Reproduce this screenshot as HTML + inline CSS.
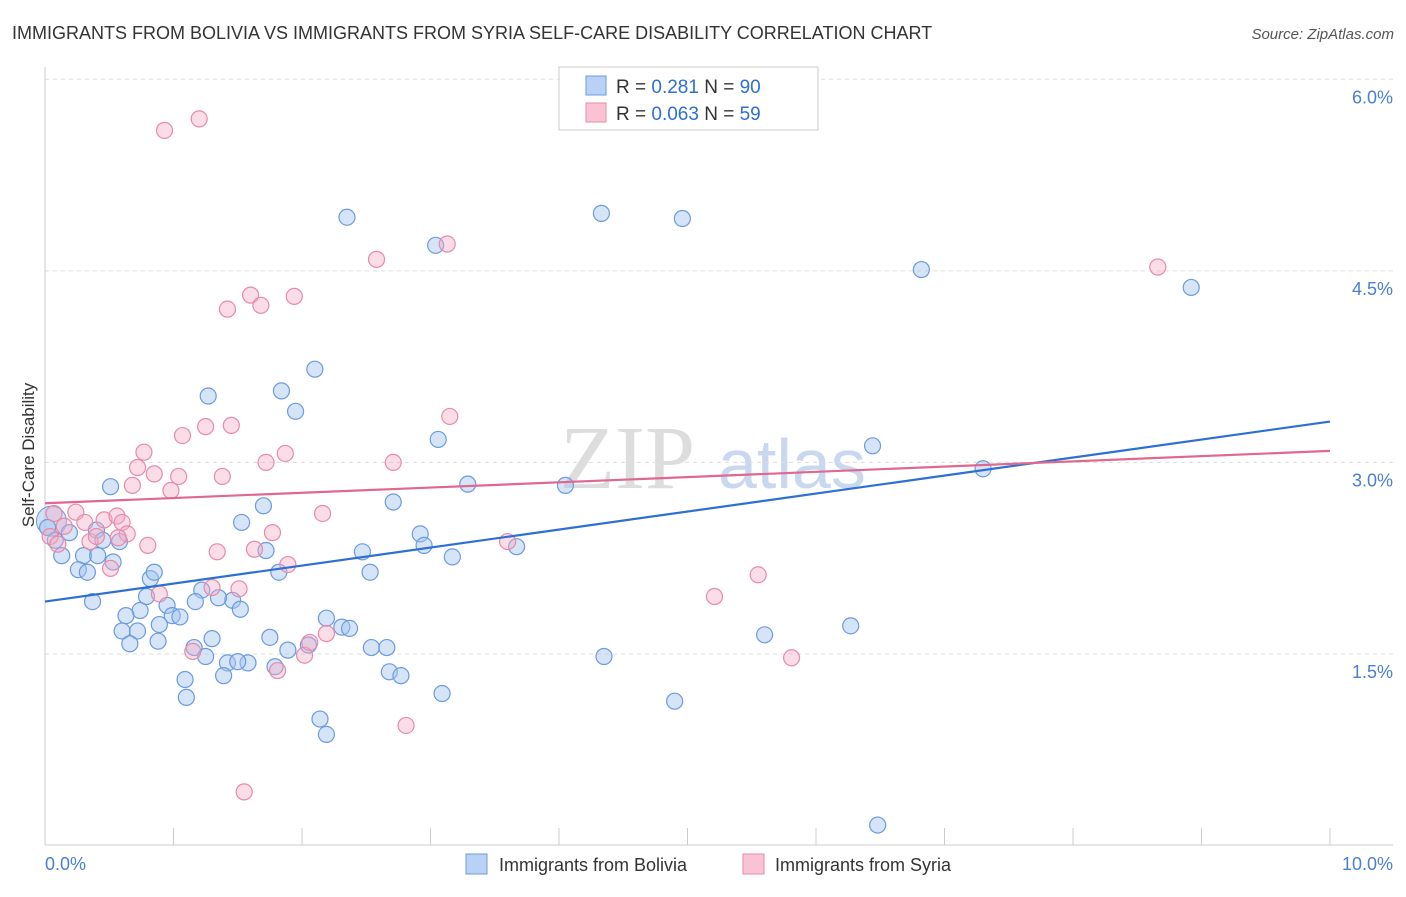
<!DOCTYPE html>
<html><head><meta charset="utf-8"><style>
body{margin:0;background:#fff;font-family:"Liberation Sans",sans-serif;}
</style></head><body>
<svg id="chart" width="1406" height="892" xmlns="http://www.w3.org/2000/svg">
<text x="12" y="39" font-size="18" fill="#333">IMMIGRANTS FROM BOLIVIA VS IMMIGRANTS FROM SYRIA SELF-CARE DISABILITY CORRELATION CHART</text>
<text x="1394" y="39" font-size="15" fill="#555" font-style="italic" text-anchor="end">Source: ZipAtlas.com</text>
<text x="560" y="488" font-size="90" fill="#ddd" font-family="Liberation Serif,serif">ZIP</text>
<text x="718" y="488" font-size="70" fill="#c9d8ee">atlas</text>
<g id="grid"></g>
<g id="axes"></g>
<g id="pts"></g>
<g id="lines"></g>
<text transform="translate(34,455) rotate(-90)" font-size="17" fill="#333" text-anchor="middle">Self-Care Disability</text>
<g>
<rect x="559" y="67" width="259" height="63" fill="#fff" stroke="#ccc"/>
<rect x="586" y="76" width="20" height="19" fill="#b9d1f5" stroke="#6a9be0"/>
<rect x="586" y="103" width="20" height="19" fill="#f9c3d4" stroke="#e88aa8"/>
<text x="616" y="93" font-size="19" fill="#333">R = <tspan fill="#2e6fd4">0.281</tspan>   N = <tspan fill="#2e6fd4">90</tspan></text>
<text x="616" y="120" font-size="19" fill="#333">R = <tspan fill="#2e6fd4">0.063</tspan>   N = <tspan fill="#2e6fd4">59</tspan></text>
</g>
<g>
<rect x="466" y="854" width="21" height="20" fill="#b9d1f5" stroke="#6a9be0"/>
<text x="499" y="871" font-size="18" fill="#333">Immigrants from Bolivia</text>
<rect x="743" y="854" width="21" height="20" fill="#f9c3d4" stroke="#e88aa8"/>
<text x="775" y="871" font-size="18" fill="#333">Immigrants from Syria</text>
</g>
</svg>
<script>
const yTicks=[1.5,3.0,4.5,6.0];
const yTickLabels=["1.5%","3.0%","4.5%","6.0%"];
const xTickLabels=["0.0%","10.0%"];
const boliviaX=[2.35,4.33,4.96,3.04,6.82,8.92,2.10,1.84,1.27,1.95,3.06,6.44,7.30,0.51,3.29,4.05,2.71,1.70,1.53,2.92,2.95,3.67,2.47,3.17,1.72,2.53,1.82,0.02,0.08,0.13,0.19,0.40,0.45,0.58,0.30,0.41,0.53,0.26,0.33,0.82,0.85,0.37,0.79,1.22,1.46,1.35,1.17,0.95,0.74,0.63,0.99,1.05,1.52,0.89,0.60,0.72,0.66,0.88,1.30,1.75,2.19,2.31,2.37,1.16,1.25,1.89,2.05,2.54,2.66,1.58,1.42,1.50,1.79,1.39,2.68,2.77,1.09,1.10,3.09,4.35,5.60,6.27,4.90,2.14,2.19,6.48];
const boliviaY=[4.92,4.95,4.91,4.70,4.51,4.37,3.73,3.56,3.52,3.40,3.18,3.13,2.95,2.81,2.83,2.82,2.69,2.66,2.53,2.44,2.35,2.34,2.30,2.26,2.31,2.14,2.14,2.49,2.39,2.27,2.45,2.47,2.39,2.38,2.27,2.27,2.22,2.16,2.14,2.09,2.14,1.91,1.95,2.00,1.92,1.94,1.91,1.88,1.84,1.80,1.80,1.79,1.85,1.73,1.68,1.68,1.58,1.60,1.62,1.63,1.78,1.71,1.70,1.55,1.48,1.53,1.57,1.55,1.55,1.43,1.43,1.44,1.40,1.33,1.36,1.33,1.30,1.16,1.19,1.48,1.65,1.72,1.13,0.99,0.87,0.16];
const syriaX=[0.93,1.20,2.58,3.13,1.60,1.94,1.42,1.68,3.15,1.45,1.07,1.25,1.87,0.77,1.72,2.71,0.72,0.85,1.04,1.38,0.98,0.68,2.16,0.07,0.24,0.31,0.46,0.56,0.60,0.15,0.04,0.10,0.35,0.40,0.64,0.57,0.80,1.77,1.63,1.34,1.89,0.51,3.60,5.55,5.21,1.51,1.30,1.15,0.89,2.02,2.06,2.19,1.81,2.81,1.55,5.81,8.66];
const syriaY=[5.60,5.69,4.59,4.71,4.31,4.30,4.20,4.23,3.36,3.29,3.21,3.28,3.07,3.08,3.00,3.00,2.96,2.91,2.89,2.89,2.78,2.82,2.60,2.60,2.61,2.53,2.55,2.58,2.53,2.50,2.42,2.36,2.38,2.42,2.44,2.41,2.35,2.45,2.32,2.30,2.20,2.17,2.38,2.12,1.95,2.01,2.02,1.52,1.97,1.49,1.59,1.66,1.37,0.94,0.42,1.47,4.53];
const trendX=[0,10];
const boliviaTrend=[1.91,3.32];
const syriaTrend=[2.68,3.09];
const NS="http://www.w3.org/2000/svg";
const X=v=>45+v*128.5, Y=v=>845.5-v*127.7;
function mk(tag,attrs,parent){const e=document.createElementNS(NS,tag);for(const k in attrs)e.setAttribute(k,attrs[k]);document.getElementById(parent).appendChild(e);return e;}
yTicks.forEach((t,i)=>{
 const g=mk('line',{x1:45,x2:1393,y1:Y(t),y2:Y(t),stroke:'#ddd','stroke-dasharray':'4,4'},'grid');
 
 
 const l=mk('text',{x:1393,y:Y(t)+24,'font-size':18,fill:'#4a7fd4','text-anchor':'end'},'grid');l.textContent=yTickLabels[i];
 
 
});
const ax=mk('line',{x1:45,x2:45,y1:67,y2:845,stroke:'#ccc'},'axes');


const bx=mk('line',{x1:45,x2:1393,y1:845,y2:845,stroke:'#ccc'},'axes');


for(let i=1;i<=10;i++){const t=mk('line',{x1:X(i),x2:X(i),y1:828,y2:845,stroke:'#ccc'},'axes');
 
 }
[[0,'start',45],[10,'end',1393]].forEach((d,i)=>{const t=mk('text',{x:d[2],y:870,'font-size':18,fill:'#4a7fd4','text-anchor':d[1]},'axes');t.textContent=xTickLabels[i];
 
 });
function pts(xs,ys,fill,stroke,name){xs.forEach((x,i)=>{const c=mk('circle',{cx:X(x),cy:Y(ys[i]),r:8,fill:fill,stroke:stroke,'stroke-width':1.2},'pts');
 
 });}
const big1=mk('circle',{cx:X(0.05),cy:Y(2.54),r:15,fill:'rgba(164,196,240,0.5)',stroke:'#6a9be0'},'pts');


pts(boliviaX,boliviaY,'rgba(164,196,240,0.45)','#6a9be0','bolivia-point');
pts(syriaX,syriaY,'rgba(245,170,195,0.4)','#e88aa8','syria-point');
const bl=mk('line',{x1:X(trendX[0]),y1:Y(boliviaTrend[0]),x2:X(trendX[1]),y2:Y(boliviaTrend[1]),stroke:'#2e6fd4','stroke-width':2.2},'lines');


const sl=mk('line',{x1:X(trendX[0]),y1:Y(syriaTrend[0]),x2:X(trendX[1]),y2:Y(syriaTrend[1]),stroke:'#e0688f','stroke-width':2.2},'lines');


</script>
</body></html>
